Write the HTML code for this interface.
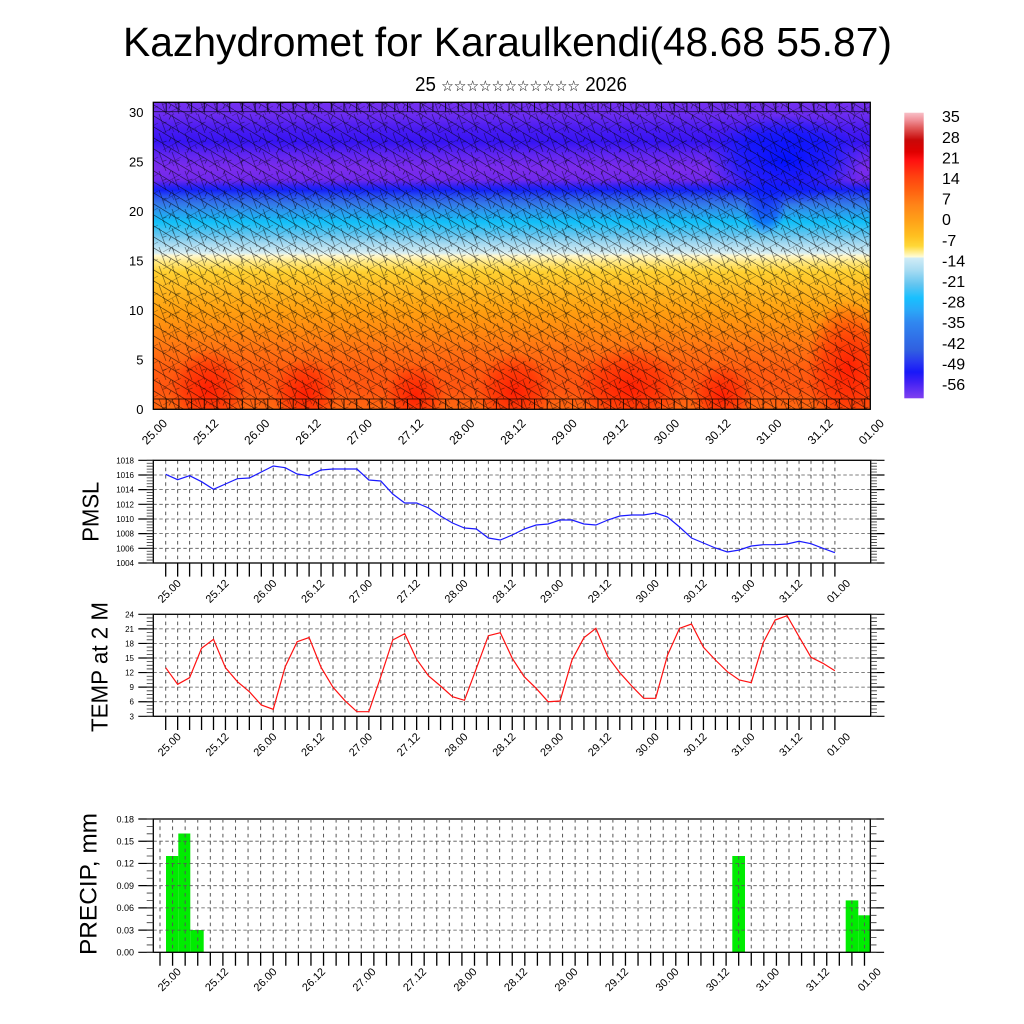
<!DOCTYPE html>
<html><head><meta charset="utf-8"><style>
html,body{margin:0;padding:0;background:#fff;}
svg{display:block;font-family:"Liberation Sans","DejaVu Sans",Arial,sans-serif;}
</style></head><body>
<svg width="1024" height="1024" viewBox="0 0 1024 1024" xmlns="http://www.w3.org/2000/svg">
<defs>
<linearGradient id="tg" x1="0" y1="102" x2="0" y2="409" gradientUnits="userSpaceOnUse">
<stop offset="0" stop-color="#7430f0"/><stop offset=".042" stop-color="#6c2cf0"/><stop offset=".085" stop-color="#4a1cf2"/><stop offset=".13" stop-color="#3614f4"/><stop offset=".173" stop-color="#6226f0"/><stop offset=".215" stop-color="#7c2cec"/><stop offset=".254" stop-color="#7028ec"/><stop offset=".274" stop-color="#3020f2"/><stop offset=".287" stop-color="#1420f8"/><stop offset=".306" stop-color="#2850f0"/><stop offset=".332" stop-color="#3478e8"/><stop offset=".362" stop-color="#28a0f0"/><stop offset=".391" stop-color="#10c0f8"/><stop offset=".43" stop-color="#60c4f0"/><stop offset=".463" stop-color="#a8daf0"/><stop offset=".492" stop-color="#d8eef2"/><stop offset=".5" stop-color="#fff8d0"/><stop offset=".521" stop-color="#ffe880"/><stop offset=".554" stop-color="#ffd030"/><stop offset=".612" stop-color="#ffb820"/><stop offset=".678" stop-color="#ffa010"/><stop offset=".743" stop-color="#ff8a10"/><stop offset=".808" stop-color="#ff7212"/><stop offset=".873" stop-color="#ff5c10"/><stop offset=".938" stop-color="#ff5510"/><stop offset="1" stop-color="#ff6810"/>
</linearGradient>
<linearGradient id="cb" x1="0" y1="0" x2="0" y2="1">
<stop offset="0" stop-color="#f8c0c8"/><stop offset=".026" stop-color="#f09098"/><stop offset=".054" stop-color="#e05858"/><stop offset=".096" stop-color="#c80808"/><stop offset=".138" stop-color="#e00000"/><stop offset=".166" stop-color="#ff1010"/><stop offset=".222" stop-color="#ff4010"/><stop offset=".271" stop-color="#ff6010"/><stop offset=".323" stop-color="#ff8418"/><stop offset=".376" stop-color="#ffa018"/><stop offset=".432" stop-color="#ffc020"/><stop offset=".467" stop-color="#ffd838"/><stop offset=".488" stop-color="#ffee90"/><stop offset=".505" stop-color="#fffcd8"/><stop offset=".509" stop-color="#d0ecf6"/><stop offset=".551" stop-color="#a8dcf2"/><stop offset=".604" stop-color="#60c4f0"/><stop offset=".649" stop-color="#18c0ff"/><stop offset=".691" stop-color="#2aa8f8"/><stop offset=".733" stop-color="#3088f0"/><stop offset=".789" stop-color="#3070e8"/><stop offset=".831" stop-color="#3060e0"/><stop offset=".873" stop-color="#2838f0"/><stop offset=".908" stop-color="#1818f8"/><stop offset=".943" stop-color="#4020f4"/><stop offset="1" stop-color="#8040f0"/>
</linearGradient>
<radialGradient id="rb"><stop offset="0" stop-color="#ff1500" stop-opacity=".85"/><stop offset=".6" stop-color="#ff2000" stop-opacity=".5"/><stop offset="1" stop-color="#ff2000" stop-opacity="0"/></radialGradient>
<radialGradient id="bb"><stop offset="0" stop-color="#0010ff" stop-opacity="1"/><stop offset=".6" stop-color="#0818ff" stop-opacity=".7"/><stop offset="1" stop-color="#1020ff" stop-opacity="0"/></radialGradient>
<pattern id="bA" width="18" height="11" patternUnits="userSpaceOnUse"><path d="M0 0L18 11M9 5.5L7 9.5" stroke="#000" stroke-width=".8" fill="none"/></pattern>
<pattern id="bB" width="13" height="19" patternUnits="userSpaceOnUse"><path d="M3 0L10 19M6.5 9.5L10.5 8" stroke="#000" stroke-width=".8" fill="none"/></pattern>
<pattern id="bC" width="23" height="17" patternUnits="userSpaceOnUse"><path d="M2 14L20 4M11 9L13 13" stroke="#000" stroke-width=".7" fill="none"/></pattern>
<pattern id="gP" x="165.2" y="460.3" width="11.95" height="7.33" patternUnits="userSpaceOnUse"><rect x="0" y="0" width="1" height="3.6" fill="#555"/></pattern>
<pattern id="gT" x="165.2" y="614.3" width="11.95" height="7.28" patternUnits="userSpaceOnUse"><rect x="0" y="0" width="1" height="3.6" fill="#555"/></pattern>
<pattern id="gR" x="159.5" y="819" width="12.58" height="7.4" patternUnits="userSpaceOnUse"><rect x="0" y="0" width="1" height="3.6" fill="#555"/></pattern>
<clipPath id="tc"><rect x="153.3" y="102.3" width="717" height="307"/></clipPath>
</defs>

<!-- Title -->
<text x="507.5" y="56" font-size="41" text-anchor="middle" textLength="769" lengthAdjust="spacingAndGlyphs">Kazhydromet for Karaulkendi(48.68 55.87)</text>
<text x="521" y="91" font-size="20" text-anchor="middle" textLength="212" lengthAdjust="spacingAndGlyphs">25 <tspan font-size="15" font-family="DejaVu Sans">☆☆☆☆☆☆☆☆☆☆☆</tspan> 2026</text>

<!-- Top contour plot -->
<g clip-path="url(#tc)">
<rect x="153.3" y="102.3" width="717" height="307" fill="url(#tg)"/>
<ellipse cx="785" cy="160" rx="80" ry="45" fill="url(#bb)"/>
<ellipse cx="765" cy="205" rx="22" ry="30" fill="url(#bb)" opacity=".6"/>
<ellipse cx="208" cy="390" rx="38" ry="42" fill="url(#rb)"/>
<ellipse cx="305" cy="394" rx="32" ry="36" fill="url(#rb)"/>
<ellipse cx="415" cy="396" rx="30" ry="32" fill="url(#rb)"/>
<ellipse cx="515" cy="392" rx="38" ry="40" fill="url(#rb)"/>
<ellipse cx="630" cy="388" rx="55" ry="42" fill="url(#rb)"/>
<ellipse cx="722" cy="396" rx="30" ry="32" fill="url(#rb)"/>
<ellipse cx="848" cy="368" rx="42" ry="68" fill="url(#rb)"/>
<rect x="153.3" y="102.3" width="717" height="307" fill="url(#bA)" opacity=".55"/>
<rect x="153.3" y="102.3" width="717" height="307" fill="url(#bB)" opacity=".45"/>
<rect x="153.3" y="102.3" width="717" height="307" fill="url(#bC)" opacity=".35"/>
<line x1="153" y1="107" x2="871" y2="107" stroke="#000" stroke-width="9" stroke-dasharray="1 11.7" opacity=".8"/>
<line x1="153" y1="111.7" x2="871" y2="111.7" stroke="#000" stroke-width=".9" opacity=".7"/>
<line x1="153" y1="399" x2="871" y2="399" stroke="#000" stroke-width=".9" opacity=".7"/>
<line x1="153" y1="404" x2="871" y2="404" stroke="#000" stroke-width="10" stroke-dasharray="1 11.7" opacity=".8"/>
</g>
<rect x="153.3" y="102.3" width="717" height="307" fill="none" stroke="#000" stroke-width="1.3"/>
<g font-size="13" text-anchor="end">
<text x="143.5" y="414">0</text><text x="143.5" y="364.5">5</text><text x="143.5" y="315">10</text><text x="143.5" y="265.5">15</text><text x="143.5" y="216">20</text><text x="143.5" y="166.5">25</text><text x="143.5" y="117">30</text>
</g>
<g font-size="12" text-anchor="end">
<text transform="translate(168,424) rotate(-45)">25.00</text>
<text transform="translate(219.2,424) rotate(-45)">25.12</text>
<text transform="translate(270.4,424) rotate(-45)">26.00</text>
<text transform="translate(321.6,424) rotate(-45)">26.12</text>
<text transform="translate(372.8,424) rotate(-45)">27.00</text>
<text transform="translate(424.1,424) rotate(-45)">27.12</text>
<text transform="translate(475.3,424) rotate(-45)">28.00</text>
<text transform="translate(526.5,424) rotate(-45)">28.12</text>
<text transform="translate(577.7,424) rotate(-45)">29.00</text>
<text transform="translate(628.9,424) rotate(-45)">29.12</text>
<text transform="translate(680.1,424) rotate(-45)">30.00</text>
<text transform="translate(731.3,424) rotate(-45)">30.12</text>
<text transform="translate(782.5,424) rotate(-45)">31.00</text>
<text transform="translate(833.7,424) rotate(-45)">31.12</text>
<text transform="translate(884.9,424) rotate(-45)">01.00</text>
</g>

<!-- Colorbar -->
<rect x="904.3" y="112.7" width="19.4" height="285.6" fill="url(#cb)"/>
<g font-size="16">
<text x="942" y="122.2">35</text><text x="942" y="142.8">28</text><text x="942" y="163.4">21</text><text x="942" y="184">14</text><text x="942" y="204.6">7</text><text x="942" y="225.2">0</text><text x="942" y="245.8">-7</text><text x="942" y="266.4">-14</text><text x="942" y="287">-21</text><text x="942" y="307.6">-28</text><text x="942" y="328.2">-35</text><text x="942" y="348.8">-42</text><text x="942" y="369.4">-49</text><text x="942" y="390">-56</text>
</g>

<!-- PMSL panel -->
<rect x="153.3" y="460.3" width="717.4" height="102.7" fill="#fff"/>
<rect x="165" y="461" width="671" height="101" fill="url(#gP)"/>
<g stroke="#555" stroke-width=".8" stroke-dasharray="3.5 2.5">
<line x1="153.3" y1="475" x2="870.7" y2="475"/><line x1="153.3" y1="489.6" x2="870.7" y2="489.6"/><line x1="153.3" y1="504.3" x2="870.7" y2="504.3"/><line x1="153.3" y1="519" x2="870.7" y2="519"/><line x1="153.3" y1="533.6" x2="870.7" y2="533.6"/><line x1="153.3" y1="548.3" x2="870.7" y2="548.3"/>
</g>
<polyline fill="none" stroke="#1a1aff" stroke-width="1.2" points="165.7,474.3 177.65,479.7 189.6,475.7 201.55,481.7 213.5,489.3 225.45,484 237.4,478.7 249.35,478 261.3,472 273.25,466 285.2,467.7 297.15,474 309.1,475.7 321.05,470 333,469 344.95,469 356.9,469 368.85,480 380.8,481 392.75,494 404.7,503 416.65,503 428.6,508 440.55,516 452.5,523 464.45,528 476.4,529 488.35,538 500.3,540 512.25,535 524.2,529 536.15,525 548.1,524 560.05,520 572,520 583.95,524 595.9,525 607.85,520 619.8,516 631.75,515 643.7,515 655.65,513 667.6,517 679.55,527 691.5,538 703.45,543 715.4,548 727.35,552 739.3,550 751.25,546 763.2,544.7 775.15,544.7 787.1,544 799.05,541.3 811,543.7 822.95,548.3 834.9,552.7"/>
<rect x="153.3" y="460.3" width="717.4" height="102.7" fill="none" stroke="#000" stroke-width="1.3"/>
<line x1="165.05" y1="569.8" x2="835.6" y2="569.8" stroke="#000" stroke-width="13.6" stroke-dasharray="1.3 10.65"/>
<line x1="145.8" y1="459.7" x2="145.8" y2="563.7" stroke="#000" stroke-width="15" stroke-dasharray="1.2 13.47"/>
<line x1="150" y1="459.9" x2="150" y2="563.5" stroke="#333" stroke-width="6.6" stroke-dasharray=".8 2.134"/>
<line x1="877.7" y1="459.7" x2="877.7" y2="563.7" stroke="#000" stroke-width="13.6" stroke-dasharray="1.2 13.47"/>
<line x1="873.9" y1="459.9" x2="873.9" y2="563.5" stroke="#333" stroke-width="6" stroke-dasharray=".8 2.134"/>
<g font-size="8" text-anchor="end">
<text x="134" y="463.3">1018</text><text x="134" y="478">1016</text><text x="134" y="492.6">1014</text><text x="134" y="507.3">1012</text><text x="134" y="522">1010</text><text x="134" y="536.6">1008</text><text x="134" y="551.3">1006</text><text x="134" y="566">1004</text>
</g>
<text transform="translate(98.3,511.7) rotate(-90)" font-size="23" text-anchor="middle" textLength="60" lengthAdjust="spacingAndGlyphs">PMSL</text>
<g font-size="11" text-anchor="end">
<text transform="translate(181.7,584) rotate(-45)">25.00</text>
<text transform="translate(229.5,584) rotate(-45)">25.12</text>
<text transform="translate(277.3,584) rotate(-45)">26.00</text>
<text transform="translate(325.1,584) rotate(-45)">26.12</text>
<text transform="translate(372.9,584) rotate(-45)">27.00</text>
<text transform="translate(420.7,584) rotate(-45)">27.12</text>
<text transform="translate(468.5,584) rotate(-45)">28.00</text>
<text transform="translate(516.3,584) rotate(-45)">28.12</text>
<text transform="translate(564.1,584) rotate(-45)">29.00</text>
<text transform="translate(611.9,584) rotate(-45)">29.12</text>
<text transform="translate(659.7,584) rotate(-45)">30.00</text>
<text transform="translate(707.5,584) rotate(-45)">30.12</text>
<text transform="translate(755.3,584) rotate(-45)">31.00</text>
<text transform="translate(803.1,584) rotate(-45)">31.12</text>
<text transform="translate(850.9,584) rotate(-45)">01.00</text>
</g>

<!-- TEMP panel -->
<rect x="153.3" y="614.3" width="717.4" height="102" fill="#fff"/>
<rect x="165" y="615" width="671" height="101" fill="url(#gT)"/>
<g stroke="#555" stroke-width=".8" stroke-dasharray="3.5 2.5">
<line x1="153.3" y1="628.9" x2="870.7" y2="628.9"/><line x1="153.3" y1="643.4" x2="870.7" y2="643.4"/><line x1="153.3" y1="658" x2="870.7" y2="658"/><line x1="153.3" y1="672.6" x2="870.7" y2="672.6"/><line x1="153.3" y1="687.1" x2="870.7" y2="687.1"/><line x1="153.3" y1="701.7" x2="870.7" y2="701.7"/>
</g>
<polyline fill="none" stroke="#ff1010" stroke-width="1.2" points="165.7,667.7 177.65,684.3 189.6,677.7 201.55,648.3 213.5,639.3 225.45,667.7 237.4,681.7 249.35,691.7 261.3,705 273.25,709.3 285.2,666.7 297.15,641.7 309.1,637.5 321.05,667.3 333,687.3 344.95,700.7 356.9,711.7 368.85,711.7 380.8,676.7 392.75,640 404.7,633.7 416.65,659.3 428.6,676 440.55,686 452.5,696.7 464.45,700.3 476.4,668.3 488.35,635.7 500.3,632.7 512.25,658.3 524.2,676.7 536.15,688.3 548.1,701.7 560.05,701 572,660 583.95,637.7 595.9,628.3 607.85,656.7 619.8,672.7 631.75,686 643.7,698.3 655.65,698.3 667.6,655 679.55,628.3 691.5,624 703.45,647.3 715.4,660 727.35,671.7 739.3,680 751.25,682.7 763.2,642.7 775.15,620 787.1,615.7 799.05,636.7 811,657.3 822.95,663.3 834.9,670.7"/>
<rect x="153.3" y="614.3" width="717.4" height="102" fill="none" stroke="#000" stroke-width="1.3"/>
<line x1="165.05" y1="723.2" x2="835.6" y2="723.2" stroke="#000" stroke-width="13.7" stroke-dasharray="1.3 10.65"/>
<line x1="145.8" y1="613.7" x2="145.8" y2="717" stroke="#000" stroke-width="15" stroke-dasharray="1.2 13.37"/>
<line x1="150" y1="613.9" x2="150" y2="716.8" stroke="#333" stroke-width="6.6" stroke-dasharray=".8 2.843"/>
<line x1="877.7" y1="613.7" x2="877.7" y2="717" stroke="#000" stroke-width="13.6" stroke-dasharray="1.2 13.37"/>
<line x1="873.9" y1="613.9" x2="873.9" y2="716.8" stroke="#333" stroke-width="6" stroke-dasharray=".8 2.843"/>
<g font-size="8" text-anchor="end">
<text x="134" y="617.3">24</text><text x="134" y="631.9">21</text><text x="134" y="646.4">18</text><text x="134" y="661">15</text><text x="134" y="675.6">12</text><text x="134" y="690.1">9</text><text x="134" y="704.7">6</text><text x="134" y="719.3">3</text>
</g>
<text transform="translate(107.3,667) rotate(-90)" font-size="23" text-anchor="middle" textLength="130" lengthAdjust="spacingAndGlyphs">TEMP at 2 M</text>
<g font-size="11" text-anchor="end">
<text transform="translate(181.7,737.4) rotate(-45)">25.00</text>
<text transform="translate(229.5,737.4) rotate(-45)">25.12</text>
<text transform="translate(277.3,737.4) rotate(-45)">26.00</text>
<text transform="translate(325.1,737.4) rotate(-45)">26.12</text>
<text transform="translate(372.9,737.4) rotate(-45)">27.00</text>
<text transform="translate(420.7,737.4) rotate(-45)">27.12</text>
<text transform="translate(468.5,737.4) rotate(-45)">28.00</text>
<text transform="translate(516.3,737.4) rotate(-45)">28.12</text>
<text transform="translate(564.1,737.4) rotate(-45)">29.00</text>
<text transform="translate(611.9,737.4) rotate(-45)">29.12</text>
<text transform="translate(659.7,737.4) rotate(-45)">30.00</text>
<text transform="translate(707.5,737.4) rotate(-45)">30.12</text>
<text transform="translate(755.3,737.4) rotate(-45)">31.00</text>
<text transform="translate(803.1,737.4) rotate(-45)">31.12</text>
<text transform="translate(850.9,737.4) rotate(-45)">01.00</text>
</g>

<!-- PRECIP panel -->
<rect x="153.3" y="819" width="717" height="133.3" fill="#fff"/>
<g fill="#00ec00">
<rect x="166" y="856" width="12.3" height="96.3"/>
<rect x="178.3" y="833.5" width="12" height="118.8"/>
<rect x="190.3" y="930" width="13.4" height="22.3"/>
<rect x="732.3" y="856" width="12.7" height="96.3"/>
<rect x="845.7" y="900.4" width="12.6" height="51.9"/>
<rect x="858.3" y="915.3" width="12" height="37"/>
</g>
<rect x="159" y="820" width="707" height="132" fill="url(#gR)"/>
<g stroke="#555" stroke-width=".8" stroke-dasharray="3.5 2.5">
<line x1="153.3" y1="841.2" x2="870.3" y2="841.2"/><line x1="153.3" y1="863.4" x2="870.3" y2="863.4"/><line x1="153.3" y1="885.7" x2="870.3" y2="885.7"/><line x1="153.3" y1="907.9" x2="870.3" y2="907.9"/><line x1="153.3" y1="930.1" x2="870.3" y2="930.1"/>
</g>
<rect x="153.3" y="819" width="717" height="133.3" fill="none" stroke="#000" stroke-width="1.3"/>
<line x1="159.35" y1="959" x2="865.2" y2="959" stroke="#000" stroke-width="13.4" stroke-dasharray="1.3 11.28"/>
<line x1="145.8" y1="818.4" x2="145.8" y2="953" stroke="#000" stroke-width="15" stroke-dasharray="1.2 21.02"/>
<line x1="150" y1="818.6" x2="150" y2="952.8" stroke="#333" stroke-width="6.6" stroke-dasharray=".8 6.607"/>
<line x1="877.3" y1="818.4" x2="877.3" y2="953" stroke="#000" stroke-width="13.6" stroke-dasharray="1.2 21.02"/>
<line x1="873.5" y1="818.6" x2="873.5" y2="952.8" stroke="#333" stroke-width="6" stroke-dasharray=".8 6.607"/>
<g font-size="9" text-anchor="end">
<text x="134" y="822.3">0.18</text><text x="134" y="844.5">0.15</text><text x="134" y="866.7">0.12</text><text x="134" y="889">0.09</text><text x="134" y="911.2">0.06</text><text x="134" y="933.4">0.03</text><text x="134" y="955.6">0.00</text>
</g>
<text transform="translate(96.7,884) rotate(-90)" font-size="24" text-anchor="middle" textLength="142" lengthAdjust="spacingAndGlyphs">PRECIP, mm</text>
<g font-size="11" text-anchor="end">
<text transform="translate(181.7,972.4) rotate(-45)">25.00</text>
<text transform="translate(229,972.4) rotate(-45)">25.12</text>
<text transform="translate(277.5,972.4) rotate(-45)">26.00</text>
<text transform="translate(326,972.4) rotate(-45)">26.12</text>
<text transform="translate(376.5,972.4) rotate(-45)">27.00</text>
<text transform="translate(427,972.4) rotate(-45)">27.12</text>
<text transform="translate(477.5,972.4) rotate(-45)">28.00</text>
<text transform="translate(528,972.4) rotate(-45)">28.12</text>
<text transform="translate(578.5,972.4) rotate(-45)">29.00</text>
<text transform="translate(629,972.4) rotate(-45)">29.12</text>
<text transform="translate(679.5,972.4) rotate(-45)">30.00</text>
<text transform="translate(730,972.4) rotate(-45)">30.12</text>
<text transform="translate(780,972.4) rotate(-45)">31.00</text>
<text transform="translate(830,972.4) rotate(-45)">31.12</text>
<text transform="translate(881.7,972.4) rotate(-45)">01.00</text>
</g>
</svg>
</body></html>
